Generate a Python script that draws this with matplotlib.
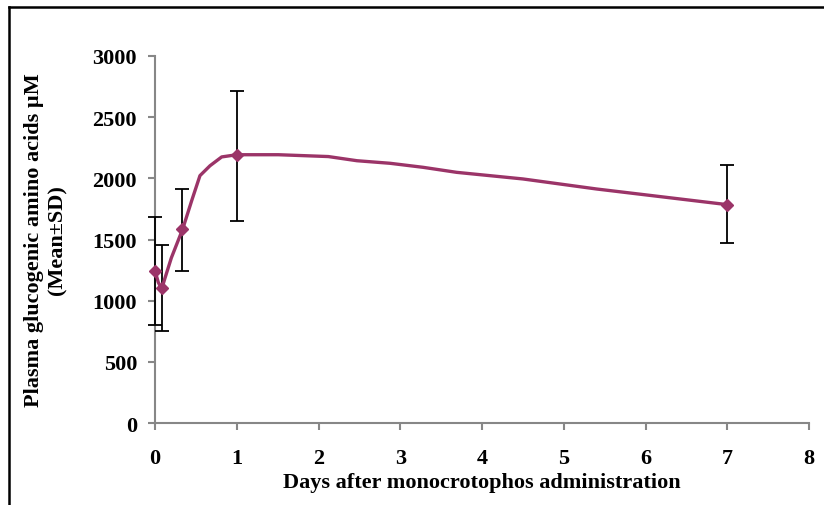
import matplotlib
matplotlib.use("Agg")
import matplotlib.pyplot as plt
from matplotlib.lines import Line2D

# measured points (mean +/- SD)
days = [0, 0.083, 0.333, 1, 7]
mean = [1245, 1100, 1585, 2193, 1785]
sd_upper = [1686, 1457, 1913, 2716, 2109]
sd_lower = [801, 755, 1245, 1654, 1471]

# the drawn (smoothed) line, vertices
curve_x = [0, 0.04, 0.082, 0.12, 0.2, 0.339, 0.45, 0.55, 0.673, 0.816, 1.0,
           1.508, 2.12, 2.47, 2.875, 3.28, 3.69, 4.5, 5.4, 7.0]
curve_y = [1245, 1150, 1095, 1180, 1350, 1586, 1820, 2022, 2103, 2175, 2193,
           2193, 2178, 2144, 2123, 2090, 2049, 1995, 1913, 1785]

line_color = '#9B3468'
plt.rcParams['font.family'] = ['Liberation Serif', 'DejaVu Serif']
plt.rcParams['font.weight'] = 'bold'

fig = plt.figure(figsize=(8.24, 5.06), dpi=100)
ax = fig.add_axes([155 / 824, 1 - 424 / 506, 654 / 824, 367 / 506])

ax.plot(curve_x, curve_y, color=line_color, lw=2.4, solid_joinstyle='round',
        solid_capstyle='round', zorder=3)
ax.plot(days, mean, linestyle='none', marker='D', markersize=6.5,
        color=line_color, zorder=4, clip_on=False)

yerr = [[m - lo for m, lo in zip(mean, sd_lower)],
        [hi - m for m, hi in zip(mean, sd_upper)]]
eb = ax.errorbar(days, mean, yerr=yerr, fmt='none', ecolor='black',
                 elinewidth=1.3, capsize=5, capthick=1.3, zorder=2.7)
for art in eb.lines[1] + eb.lines[2]:
    art.set_clip_on(False)

ax.set_xlim(0, 8)
ax.set_ylim(0, 3000)
ax.set_xticks(range(0, 9))
ax.set_yticks(range(0, 3001, 500))

for side in ['top', 'right']:
    ax.spines[side].set_visible(False)
for side in ['left', 'bottom']:
    ax.spines[side].set_color('#878787')
    ax.spines[side].set_linewidth(1.5)
ax.tick_params(axis='both', colors='#878787', width=1.5, length=5,
               labelcolor='black', labelsize=16)
ax.tick_params(axis='x', pad=13)
ax.tick_params(axis='y', pad=8)
for lbl in ax.get_xticklabels() + ax.get_yticklabels():
    lbl.set_fontweight('bold')

ax.set_xlabel('Days after monocrotophos administration', fontsize=16,
              fontweight='bold', labelpad=3)
ax.set_ylabel('Plasma glucogenic amino acids µM\n(Mean±SD)', fontsize=16,
              fontweight='bold', linespacing=1.2, labelpad=18)

# outer frame (top and left edges show in the crop)
fig.add_artist(Line2D([8.5 / 824, 8.5 / 824], [0, 1 - 7.5 / 506],
                      transform=fig.transFigure, color='black', lw=1.8))
fig.add_artist(Line2D([8.5 / 824, 1], [1 - 7.5 / 506, 1 - 7.5 / 506],
                      transform=fig.transFigure, color='black', lw=1.8))

fig.savefig('out.png', dpi=100)
